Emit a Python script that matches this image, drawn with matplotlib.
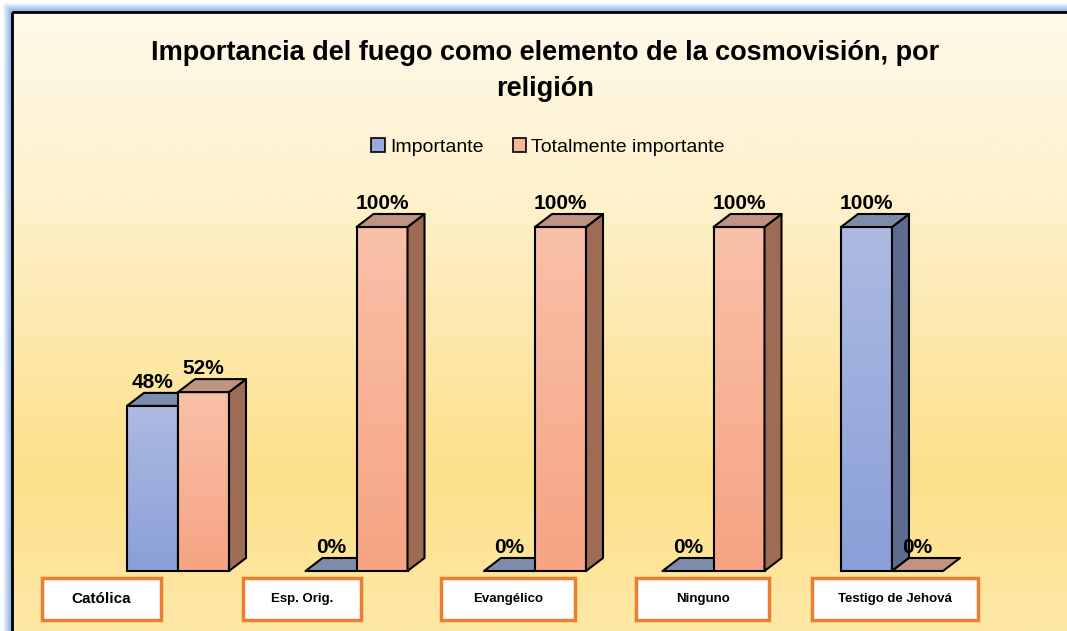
import numpy as np
import matplotlib.pyplot as plt
from matplotlib.patches import Rectangle, Polygon, Patch
from matplotlib.colors import LinearSegmentedColormap
from matplotlib import font_manager

# data
categories = ['Católica', 'Esp. Orig.', 'Evangélico', 'Ninguno', 'Testigo de Jehová']
importante = [48, 0, 0, 0, 100]
totalmente = [52, 100, 100, 100, 0]
series_names = ['Importante', 'Totalmente importante']
title = 'Importancia del fuego como elemento de la cosmovisión, por\nreligión'

names = {f.name for f in font_manager.fontManager.ttflist}
narrow = 'Liberation Sans Narrow' if 'Liberation Sans Narrow' in names else 'Liberation Sans'
plt.rcParams['font.family'] = ['Liberation Sans', 'DejaVu Sans']

fig = plt.figure(figsize=(10.67, 6.31), dpi=100)

#%% background panel (pixel coords)
bg = fig.add_axes([0, 0, 1, 1])
bg.set_xlim(0, 1067)
bg.set_ylim(631, 0)
bg.axis('off')
panel = LinearSegmentedColormap.from_list(
    'panel', [(0, '#FEF9EA'), (0.3, '#FEF1CC'), (0.75, '#FDE08A'), (1, '#FEE8A6')])
bg.imshow(np.linspace(0, 1, 256)[:, None], cmap=panel, aspect='auto',
          extent=(12, 1080, 631, 12), zorder=0)
for k, a in zip(range(1, 10), np.linspace(0.6, 0.05, 9)):
    bg.add_patch(Rectangle((12 - k, 12 - k), 1200, 800, fill=False,
                           ec='#5B8FE0', lw=1, alpha=a, zorder=1))
bg.add_patch(Rectangle((12, 12), 1200, 800, fill=False, ec='black', lw=2, zorder=2))
bg.set_xlim(0, 1067)
bg.set_ylim(631, 0)

#%% chart axes
ax = fig.add_axes([0, 0, 1, 1])
ax.patch.set_visible(False)
ax.axis('off')

w = 51 / 178.5    # bar width
dx = 17 / 178.5   # depth offset x
dy = 13 / 3.44    # depth offset y


def bar3d(x0, h, z, top_col, bot_col, cap_col, side_col):
    cmap = LinearSegmentedColormap.from_list('g', [top_col, bot_col])
    if h > 0:
        ax.imshow(np.linspace(0, 1, 128)[:, None], cmap=cmap, aspect='auto',
                  extent=(x0, x0 + w, 0, h), origin='upper', zorder=z)
        ax.add_patch(Rectangle((x0, 0), w, h, fill=False, ec='black', lw=1.5, zorder=z + 0.1))
        ax.add_patch(Polygon([(x0 + w, 0), (x0 + w + dx, dy), (x0 + w + dx, h + dy), (x0 + w, h)],
                             fc=side_col, ec='black', lw=1.5, zorder=z + 0.1, joinstyle='round'))
    ax.add_patch(Polygon([(x0, h), (x0 + dx, h + dy), (x0 + w + dx, h + dy), (x0 + w, h)],
                         fc=cap_col, ec='black', lw=1.5, zorder=z + 0.1, joinstyle='round'))
    ax.text(x0 + w / 2, h + dy + 0.3, f'{h}%', ha='center', va='bottom',
            fontsize=15, fontweight='bold', family=narrow, zorder=20)


blue = ('#ADBAE2', '#8A9FD8', '#7F8BAA', '#5F6B8E')
salmon = ('#F9C0A8', '#F6A483', '#BF9282', '#9E6B55')

for i in range(len(categories)):
    bar3d(i - w, importante[i], 3 + 2 * i, *blue)
    bar3d(i, totalmente[i], 4 + 2 * i, *salmon)

# category label boxes
label_x = [-0.43, 0.695, 1.849, 2.941, 4.017]
label_w = [119, 118, 134, 133, 166]
label_size = [11, 9.5, 9.5, 9.5, 9.5]
for cx, bw, fs, cat in zip(label_x, label_w, label_size, categories):
    bw = bw / 178.5
    ax.add_patch(Rectangle((cx - bw / 2, -14.2), bw, 12.2, fc='white',
                           ec='#ED7D31', lw=2.5, zorder=15))
    ax.text(cx, -8.1, cat, ha='center', va='center', fontsize=fs,
            fontweight='bold', zorder=16)

ax.set_xlim(-178 / 178.5, (1067 - 178) / 178.5)
ax.set_ylim(-60 / 3.44, (631 - 60) / 3.44)

#%% title and legend
fig.text(0.511, 1 - 71 / 631, title, ha='center', va='center', fontsize=19.5,
         fontweight='bold', linespacing=1.45)
handles = [Patch(fc='#9AAADD', ec='black', lw=1.2), Patch(fc='#F8B59A', ec='black', lw=1.2)]
fig.legend(handles, series_names, loc='center', bbox_to_anchor=(548 / 1067, 1 - 147 / 631),
           ncol=2, frameon=False, handlelength=0.7, handleheight=0.7, handletextpad=0.25,
           columnspacing=1.5, prop={'family': narrow, 'size': 14})

fig.savefig('out.png', dpi=100)
